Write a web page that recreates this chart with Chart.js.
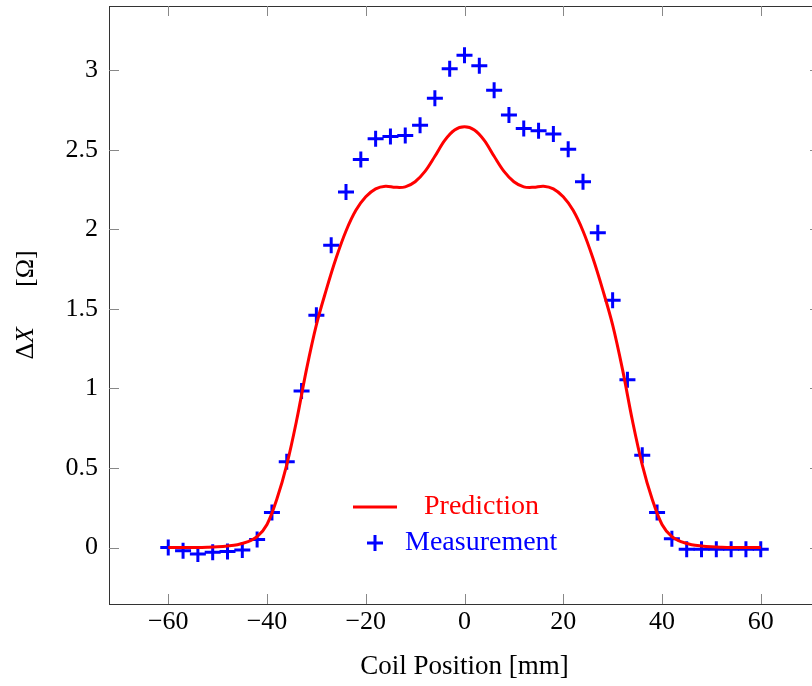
<!DOCTYPE html>
<html>
<head>
<meta charset="utf-8">
<script src="https://cdn.jsdelivr.net/npm/chart.js@4.4.0/dist/chart.umd.min.js"></script>
<style>
  html, body { margin: 0; padding: 0; overflow: hidden; background: #fff; }
  #wrap { width: 830px; height: 686px; }
</style>
</head>
<body>
<div id="wrap"><canvas id="coilChart" width="830" height="686"></canvas></div>
<script>
// datos
const predPos = [-60, -58, -56, -54, -52, -50, -48, -46, -44, -42, -40, -38, -36, -34, -32, -30,
  -28, -26, -24, -22, -20, -18, -16, -14, -12, -10, -8, -6, -4, -2, 0,
  2, 4, 6, 8, 10, 12, 14, 16, 18, 20, 22, 24, 26, 28, 30,
  32, 34, 36, 38, 40, 42, 44, 46, 48, 50, 52, 54, 56, 58, 60];
const predDX = [0.000, 0.000, 0.000, 0.000, 0.002, 0.005, 0.010, 0.018, 0.035, 0.068, 0.145, 0.305, 0.520, 0.800, 1.120, 1.400,
  1.620, 1.820, 1.990, 2.120, 2.205, 2.255, 2.272, 2.265, 2.268, 2.300, 2.365, 2.460, 2.560, 2.625, 2.645,
  2.625, 2.560, 2.460, 2.365, 2.300, 2.268, 2.265, 2.272, 2.255, 2.205, 2.120, 1.990, 1.820, 1.620, 1.400,
  1.120, 0.800, 0.520, 0.305, 0.145, 0.068, 0.035, 0.018, 0.010, 0.005, 0.002, 0.000, 0.000, 0.000, 0.000];

const measPos = [-60, -57, -54, -51, -48, -45, -42, -39, -36, -33, -30, -27, -24, -21, -18, -15, -12, -9, -6, -3, 0,
  3, 6, 9, 12, 15, 18, 21, 24, 27, 30, 33, 36, 39, 42, 45, 48, 51, 54, 57, 60];
const measDX = [0.00, -0.02, -0.04, -0.03, -0.025, -0.015, 0.05, 0.22, 0.54, 0.985, 1.46, 1.90, 2.235, 2.44, 2.57, 2.585, 2.59, 2.655, 2.825, 3.01, 3.095,
  3.03, 2.875, 2.72, 2.635, 2.62, 2.60, 2.505, 2.30, 1.98, 1.555, 1.055, 0.58, 0.22, 0.055, -0.01, -0.01, -0.01, -0.01, -0.01, -0.01];

const xTicks = [-60, -40, -20, 0, 20, 40, 60];
const yTicks = [0, 0.5, 1, 1.5, 2, 2.5, 3];

const serif = '"Liberation Serif", "DejaVu Serif", serif';

// marco, marcas hacia adentro, titulo del eje y y leyenda
const framePlugin = {
  id: 'frame',
  afterDraw(chart) {
    const { ctx, chartArea: a, scales } = chart;
    ctx.save();
    ctx.strokeStyle = '#333';
    ctx.lineWidth = 1;
    ctx.strokeRect(a.left + 0.5, a.top + 0.5, a.right - a.left, a.bottom - a.top);

    ctx.strokeStyle = '#888';
    const tl = 10;
    ctx.beginPath();
    xTicks.forEach(v => {
      const px = Math.round(scales.x.getPixelForValue(v)) + 0.5;
      ctx.moveTo(px, a.bottom); ctx.lineTo(px, a.bottom - tl);
      ctx.moveTo(px, a.top); ctx.lineTo(px, a.top + tl);
    });
    yTicks.forEach(v => {
      const py = Math.round(scales.y.getPixelForValue(v)) + 0.5;
      ctx.moveTo(a.left, py); ctx.lineTo(a.left + tl, py);
      ctx.moveTo(a.right, py); ctx.lineTo(a.right - tl, py);
    });
    ctx.stroke();

    // titulo del eje y: ΔX   [Ω]
    ctx.fillStyle = '#000';
    ctx.textBaseline = 'middle';
    ctx.translate(26, 305);
    ctx.rotate(-Math.PI / 2);
    const parts = [
      { t: 'Δ', f: '26px ' + serif },
      { t: 'X', f: 'italic 26px ' + serif },
      { t: '', f: '26px ' + serif, gap: 40 },
      { t: '[Ω]', f: '26px ' + serif }
    ];
    let total = 0;
    parts.forEach(p => { ctx.font = p.f; p.w = ctx.measureText(p.t).width + (p.gap || 0); total += p.w; });
    let x = -total / 2;
    ctx.textAlign = 'left';
    parts.forEach(p => { ctx.font = p.f; ctx.fillText(p.t, x, 0); x += p.w; });
    ctx.restore();

    // leyenda
    ctx.save();
    ctx.font = '28px ' + serif;
    ctx.textBaseline = 'middle';
    ctx.textAlign = 'left';
    ctx.strokeStyle = '#ff0000';
    ctx.lineWidth = 3;
    ctx.beginPath(); ctx.moveTo(353, 507); ctx.lineTo(397, 507); ctx.stroke();
    ctx.fillStyle = '#ff0000';
    ctx.fillText('Prediction', 424, 507);
    ctx.strokeStyle = '#0000ff';
    ctx.beginPath();
    ctx.moveTo(367, 543); ctx.lineTo(383, 543);
    ctx.moveTo(375, 535); ctx.lineTo(375, 551);
    ctx.stroke();
    ctx.fillStyle = '#0000ff';
    ctx.fillText('Measurement', 405, 543);
    ctx.restore();
  }
};

const ctx = document.getElementById('coilChart').getContext('2d');

const coilChart = new Chart(ctx, {
  type: 'scatter',
  data: {
    datasets: [{
      label: 'Prediction',
      type: 'line',
      data: predPos.map((p, i) => ({ x: p, y: predDX[i] })),
      borderColor: '#ff0000',
      borderWidth: 3,
      pointRadius: 0,
      tension: 0.35,
      fill: false
    }, {
      label: 'Measurement',
      data: measPos.map((p, i) => ({ x: p, y: measDX[i] })),
      pointStyle: 'cross',
      pointRadius: 8,
      pointBorderWidth: 3,
      borderColor: '#0000ff',
      backgroundColor: '#0000ff',
      showLine: false
    }]
  },
  options: {
    responsive: false,
    animation: false,
    devicePixelRatio: 1,
    layout: { autoPadding: false, padding: { left: 0, top: 6, right: 10, bottom: 0 } },
    plugins: {
      legend: { display: false },
      tooltip: { enabled: false }
    },
    scales: {
      x: {
        type: 'linear',
        min: -72,
        max: 72,
        afterFit: (s) => { s.height = 82; s.paddingLeft = 0; s.paddingRight = 0; },
        afterBuildTicks: (s) => { s.ticks = xTicks.map(v => ({ value: v })); },
        grid: { display: false, drawTicks: false },
        border: { display: false },
        ticks: {
          padding: 3,
          color: '#000',
          font: { family: serif, size: 26 },
          callback: (v) => String(v).replace('-', '\u2212')
        },
        title: {
          display: true,
          text: 'Coil Position [mm]',
          color: '#000',
          font: { family: serif, size: 27 },
          padding: { top: 0, bottom: 3 }
        }
      },
      y: {
        type: 'linear',
        min: -0.355,
        max: 3.405,
        afterFit: (s) => { s.width = 109; s.paddingTop = 0; s.paddingBottom = 0; },
        afterBuildTicks: (s) => { s.ticks = yTicks.map(v => ({ value: v })); },
        grid: { display: false, drawTicks: false },
        border: { display: false },
        ticks: {
          padding: 11,
          color: '#000',
          font: { family: serif, size: 26 },
          callback: (v) => String(v)
        }
      }
    }
  },
  plugins: [framePlugin]
});
</script>
</body>
</html>
